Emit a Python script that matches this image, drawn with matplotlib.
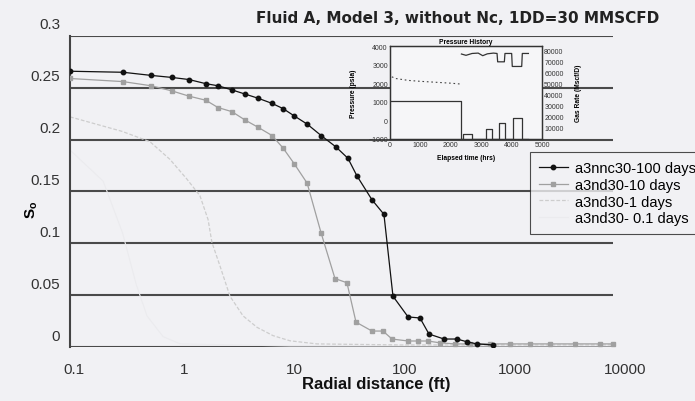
import numpy as np
import matplotlib
matplotlib.use("Agg")
import matplotlib.pyplot as plt
from matplotlib.transforms import ScaledTranslation

plt.rcParams['font.family'] = ['Liberation Sans', 'DejaVu Sans']

# saturation profiles
x_100 = [0.1, 0.303, 0.543, 0.843, 1.20, 1.71, 2.20, 2.95, 3.87, 5.08, 6.81, 8.57,
         10.8, 14.2, 19.0, 25.9, 33.3, 40.2, 55.0, 70.6, 85.3, 117, 150, 181, 248,
         325, 401, 493, 689]
so_100 = [0.266, 0.265, 0.262, 0.260, 0.258, 0.254, 0.252, 0.248, 0.244, 0.240,
          0.235, 0.230, 0.223, 0.215, 0.204, 0.193, 0.182, 0.165, 0.142, 0.128,
          0.049, 0.029, 0.028, 0.0125, 0.0077, 0.0077, 0.005, 0.003, 0.002]

x_10 = [0.1, 0.303, 0.543, 0.843, 1.20, 1.71, 2.20, 2.95, 3.87, 5.08, 6.81, 8.57,
        10.8, 14.2, 19.0, 25.4, 32.6, 39.4, 55.0, 69.2, 83.6, 117, 144, 177, 228,
        312, 426, 647, 984, 1490, 2270, 3830, 6440, 8450]
so_10 = [0.259, 0.256, 0.252, 0.247, 0.242, 0.238, 0.231, 0.227, 0.219, 0.212,
         0.204, 0.192, 0.177, 0.158, 0.110, 0.066, 0.062, 0.024, 0.0154, 0.0154,
         0.0077, 0.0058, 0.0058, 0.0058, 0.004, 0.003, 0.003, 0.003, 0.003, 0.003,
         0.003, 0.003, 0.003, 0.003]

x_1 = [0.1, 0.297, 0.532, 0.807, 1.15, 1.51, 1.79, 1.94, 2.30, 2.83, 3.72, 4.98,
       6.95, 9.91, 17.4, 100, 1000, 8450]
so_1 = [0.222, 0.208, 0.198, 0.181, 0.162, 0.146, 0.123, 0.101, 0.078, 0.049,
        0.030, 0.019, 0.011, 0.006, 0.003, 0.002, 0.002, 0.002]

x_01 = [0.1, 0.2, 0.3, 0.4, 0.5, 0.7, 1.0, 10, 8450]
so_01 = [0.19, 0.16, 0.11, 0.06, 0.03, 0.01, 0.003, 0.001, 0.001]

so_ticks = [0, 0.05, 0.1, 0.15, 0.2, 0.25, 0.3]
so_labels = ['0', '0.05', '0.1', '0.15', '0.2', '0.25', '0.3']
r_ticks = [0.1, 1, 10, 100, 1000, 10000]
r_labels = ['0.1', '1', '10', '100', '1000', '10000']
grid_end = 8450

# inset: pressure history
t_p1 = [0, 50, 200, 600, 1000, 1500, 2000, 2350]
p_1 = [2550, 2350, 2250, 2150, 2100, 2050, 2000, 1950]
t_p2 = [2350, 2500, 2700, 2900, 3050, 3200, 3400, 3520, 3540, 3760, 3780, 4000,
        4020, 4330, 4350, 4550]
p_2 = [3570, 3500, 3600, 3620, 3480, 3580, 3620, 3600, 3150, 3150, 3600, 3600,
       2900, 2900, 3600, 3600]
t_q = [0, 2350, 2400, 2700, 3150, 3350, 3580, 3780, 4050, 4340, 4550]
q = [34000, 0, 4000, 0, 9000, 0, 14000, 0, 19000, 0, 0]

bg = '#f1f1f4'
fig = plt.figure(figsize=(6.95, 4.02), dpi=100, facecolor=bg)
ax = fig.add_axes([0.1007, 0.1343, 0.7928, 0.7737], facecolor=bg)

ax.hlines(so_ticks, r_ticks[0], grid_end, color='#4a4a4a', lw=1.5, zorder=1)
ax.plot(x_01, so_01, color='#ebebee', lw=0.8, label='a3nd30- 0.1 days', zorder=2)
ax.plot(x_1, so_1, color='#cdcdcd', lw=0.9, ls=(0, (3, 1.5)), label='a3nd30-1 days', zorder=2)
ax.plot(x_10, so_10, color='#a0a0a0', lw=0.9, marker='s', ms=3.2, label='a3nd30-10 days', zorder=3)
ax.plot(x_100, so_100, color='#111111', lw=0.9, marker='o', ms=3.2, label='a3nnc30-100 days', zorder=4)

ax.set_xscale('log')
ax.set_xlim(0.1, 10000)
ax.set_ylim(0, 0.3)
ax.set_yticks(so_ticks)
ax.set_yticklabels(so_labels)
ax.set_xticks(r_ticks)
ax.set_xticklabels(r_labels)
ax.minorticks_off()
ax.tick_params(length=0, labelsize=11, colors='#333333', pad=11)
ax.tick_params(axis='y', pad=7)
off = ScaledTranslation(0, 0.13, fig.dpi_scale_trans)
for lab in ax.get_yticklabels():
    lab.set_transform(lab.get_transform() + off)
offx = ScaledTranslation(0.04, 0, fig.dpi_scale_trans)
for lab in ax.get_xticklabels():
    lab.set_transform(lab.get_transform() + offx)
for s in ['top', 'right', 'bottom']:
    ax.spines[s].set_visible(False)
ax.spines['left'].set_color('#444444')
ax.spines['left'].set_linewidth(1.5)

fig.text(0.542, 0.043, 'Radial distance (ft)', fontsize=12, fontweight='bold',
         ha='center', va='center', color='#111111')
fig.text(0.045, 0.478, r'S$_\mathregular{o}$', rotation=90, fontsize=11,
         fontweight='bold', ha='center', va='center')
fig.text(0.659, 0.955, 'Fluid A, Model 3, without Nc, 1DD=30 MMSCFD',
         fontsize=11, fontweight='bold', ha='center', va='center', color='#222222',
         family='DejaVu Sans')

h, l = ax.get_legend_handles_labels()
leg = ax.legend(h[::-1], l[::-1], loc='upper left', bbox_to_anchor=(0.835, 0.627),
                frameon=True, fancybox=False, edgecolor='#222222', facecolor=bg,
                fontsize=10.5, handlelength=2.0, handletextpad=0.5, labelspacing=0.2,
                borderaxespad=0, borderpad=0.6)
leg.get_frame().set_linewidth(0.8)
leg.set_clip_on(False)

# inset
ins = fig.add_axes([0.561, 0.652, 0.219, 0.231], facecolor='#f6f6f8')
ins.plot(t_p1, p_1, color='#444444', lw=0.8, ls=(0, (1.5, 2.5)))
ins.plot(t_p2, p_2, color='#333333', lw=0.9)
ins.set_xlim(0, 5000)
ins.set_ylim(-1000, 4000)
ins.set_xticks([0, 1000, 2000, 3000, 4000, 5000])
ins.set_yticks([-1000, 0, 1000, 2000, 3000, 4000])
ins.tick_params(length=0, labelsize=5, pad=1.5, colors='#333333')
ins.set_xlabel('Elapsed time (hrs)', fontsize=4.8, fontweight='bold', labelpad=4)
ins.set_ylabel('Pressure (psia)', fontsize=4.8, fontweight='bold', labelpad=8)
ins.set_title('Pressure History', fontsize=4.8, fontweight='bold', pad=2)
ins2 = ins.twinx()
ins2.plot(t_q, q, color='#333333', lw=0.9, drawstyle='steps-post')
ins2.set_ylim(0, 84000)
ins2.set_yticks(np.arange(10000, 80001, 10000))
ins2.tick_params(length=0, labelsize=5, pad=1.5, colors='#333333')
ins2.set_ylabel('Gas Rate (Mscf/D)', fontsize=4.8, fontweight='bold', labelpad=8)
for a in (ins, ins2):
    for s in a.spines.values():
        s.set_linewidth(0.9)
        s.set_color('#333333')

fig.savefig('out.png', dpi=100, facecolor=bg)
